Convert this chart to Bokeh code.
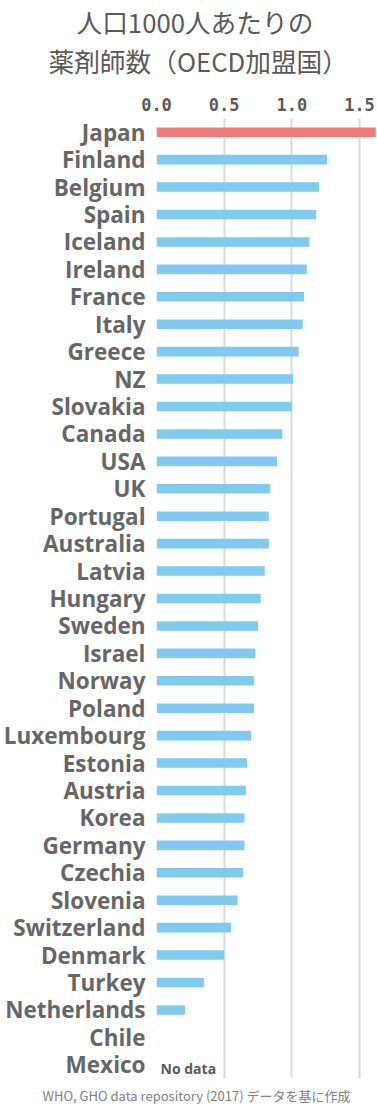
from bokeh.plotting import figure
from bokeh.models import (Title, FixedTicker, Range1d, FactorRange, ColumnDataSource,
                          ColorBar, LinearColorMapper)
from bokeh.core.properties import value
from bokeh.embed import file_html
from bokeh.resources import INLINE

countries = ["Japan", "Finland", "Belgium", "Spain", "Iceland", "Ireland", "France", "Italy",
             "Greece", "NZ", "Slovakia", "Canada", "USA", "UK", "Portugal", "Australia",
             "Latvia", "Hungary", "Sweden", "Israel", "Norway", "Poland", "Luxembourg",
             "Estonia", "Austria", "Korea", "Germany", "Czechia", "Slovenia", "Switzerland",
             "Denmark", "Turkey", "Netherlands", "Chile", "Mexico"]
values = [1.62, 1.26, 1.20, 1.18, 1.13, 1.11, 1.09, 1.08,
          1.05, 1.01, 1.00, 0.93, 0.89, 0.84, 0.83, 0.83,
          0.80, 0.77, 0.75, 0.73, 0.72, 0.72, 0.70,
          0.67, 0.66, 0.65, 0.65, 0.64, 0.60, 0.55,
          0.50, 0.35, 0.21, None, None]
tick_values = [0.0, 0.5, 1.0, 1.5]
tick_labels = ["0.0", "0.5", "1.0", "1.5"]
title_lines = ["人口1000人あたりの", "薬剤師数（OECD加盟国）"]
source_note = "WHO, GHO data repository (2017) データを基に作成"
no_data_text = "No data"
highlight = "Japan"

bar_c, bar_v, bar_col = [], [], []
for c, v in zip(countries, values):
    if v is not None:
        bar_c.append(c)
        bar_v.append(v)
        bar_col.append("#EF7B7B" if c == highlight else "#80C9F0")
src = ColumnDataSource(dict(country=bar_c, val=bar_v, color=bar_col))

p = figure(width=377, height=1106,
           y_range=FactorRange(factors=list(reversed(countries))),
           x_range=Range1d(0, 1.633),
           x_axis_location="above",
           output_backend="svg", toolbar_location=None,
           min_border_left=156, min_border_right=0,
           min_border_top=118, min_border_bottom=28)
p.outline_line_color = None
p.background_fill_color = "white"
p.border_fill_color = "white"

p.hbar(y="country", left=0, right="val", height=0.35, source=src,
       fill_color="color", line_color=None)

missing = [c for c, v in zip(countries, values) if v is None]
p.text(x=[0.03], y=[missing[-1]], text=[no_data_text],
       text_font=value("Open Sans"), text_font_style="bold", text_font_size="14px",
       text_color="#595959", text_baseline="middle", y_offset=4)

xa = p.xaxis[0]
xa.ticker = FixedTicker(ticks=tick_values)
xa.major_label_overrides = {t: l for t, l in zip(tick_values, tick_labels)}
xa.axis_line_color = None
xa.major_tick_line_color = None
xa.minor_tick_line_color = None
xa.major_tick_out = 0
xa.major_tick_in = 0
xa.major_label_text_font = "DejaVu Sans Mono"
xa.major_label_text_font_style = "bold"
xa.major_label_text_font_size = "17px"
xa.major_label_text_color = "#595959"
xa.major_label_standoff = 8

ya = p.yaxis[0]
ya.axis_line_color = None
ya.major_tick_line_color = None
ya.minor_tick_line_color = None
ya.major_tick_out = 0
ya.major_tick_in = 0
ya.major_label_text_font = "Open Sans"
ya.major_label_text_font_style = "bold"
ya.major_label_text_font_size = "22.5px"
ya.major_label_text_color = "#666666"
ya.major_label_standoff = 11

p.xgrid.ticker = FixedTicker(ticks=tick_values)
p.xgrid.grid_line_color = "#D9D9D9"
p.xgrid.grid_line_width = 2
p.ygrid.grid_line_color = None


def spacer(gap):
    # invisible, text-free panel that only reserves vertical space
    mapper = LinearColorMapper(palette=["#FFFFFF", "#FFFFFF"], low=0, high=1)
    return ColorBar(color_mapper=mapper, orientation="horizontal", height=gap,
                    ticker=FixedTicker(ticks=[]), padding=0, margin=0,
                    title=None, title_standoff=0, label_standoff=0,
                    major_tick_in=0, major_tick_out=0, minor_tick_in=0, minor_tick_out=0,
                    major_tick_line_color=None, minor_tick_line_color=None,
                    bar_line_color=None, border_line_color=None,
                    background_fill_color=None, scale_alpha=0.0)

p.add_layout(spacer(16), "above")
p.add_layout(spacer(5), "below")

p.add_layout(Title(text=source_note, align="left", offset=-114, standoff=0,
                   text_line_height=0.9,
                   text_font="Noto Sans CJK JP", text_font_size="13px",
                   text_font_style="normal", text_color="#7F7F7F"), "below")
p.add_layout(Title(text=title_lines[1], align="left", offset=-108, standoff=0,
                   text_line_height=0.64,
                   text_font="Noto Sans CJK JP", text_font_size="25.7px",
                   text_font_style="normal", text_color="#595959"), "above")
p.add_layout(Title(text=title_lines[0], align="left", offset=-80, standoff=0,
                   text_line_height=0.65,
                   text_font="Noto Sans CJK JP", text_font_size="25.7px",
                   text_font_style="normal", text_color="#595959"), "above")

open("out.html", "w").write(file_html(p, INLINE))
